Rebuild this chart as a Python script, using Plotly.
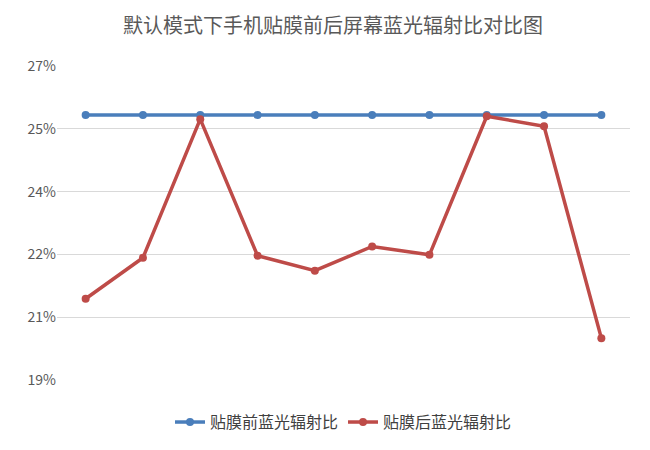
import plotly.graph_objects as go

x = list(range(1, 11))
before = [0.2533] * 10
after = [0.2094, 0.2192, 0.2523, 0.2197, 0.2161, 0.2219, 0.2199, 0.2530, 0.2506, 0.2000]
tickvals = [0.19, 0.205, 0.22, 0.235, 0.25, 0.265]
ticktext = ["19%", "21%", "22%", "24%", "25%", "27%"]

fig = go.Figure()
fig.add_trace(go.Scatter(x=x, y=before, mode="lines+markers", name="贴膜前蓝光辐射比",
                         line=dict(color="#4a7ebb", width=3.5), marker=dict(size=8, color="#4a7ebb")))
fig.add_trace(go.Scatter(x=x, y=after, mode="lines+markers", name="贴膜后蓝光辐射比",
                         line=dict(color="#be4b48", width=3.5), marker=dict(size=8, color="#be4b48")))
fig.update_layout(
    width=650, height=450, paper_bgcolor="white", plot_bgcolor="white",
    font=dict(family="Noto Sans CJK SC", color="#595959"),
    title=dict(text="默认模式下手机贴膜前后屏幕蓝光辐射比对比图", x=0.5, y=0.975,
               font=dict(size=20, color="#595959")),
    margin=dict(l=49, r=28, t=58, b=78),
    xaxis=dict(range=[0.5, 10.5], showticklabels=False, showgrid=False, zeroline=False,
               showline=False),
    yaxis=dict(range=[0.19, 0.265], tickvals=tickvals, ticktext=ticktext, showgrid=True,
               gridcolor="#d9d9d9", zeroline=False, tickfont=dict(size=14, color="#595959"),
               ticks="", ticklen=0),
    legend=dict(orientation="h", x=0.5, xanchor="center", y=-0.08, yanchor="top",
                font=dict(size=16, color="#404040")),
)
fig.write_html("out.html")
